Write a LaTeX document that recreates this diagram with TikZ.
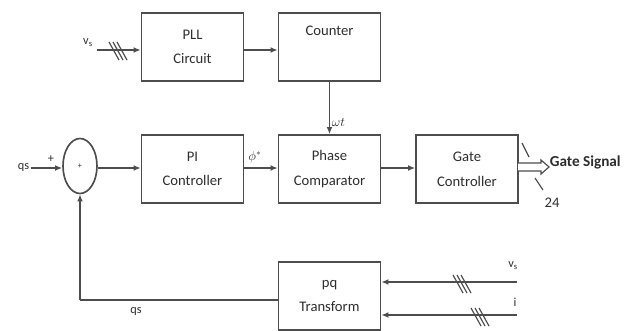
\documentclass[tikz,border=0pt]{standalone}
\usepackage{fontspec}
\setmainfont{Carlito}
\usetikzlibrary{arrows.meta,shapes.geometric}
\definecolor{ln}{HTML}{4d4d4d}
\definecolor{tx}{HTML}{2e2e2e}
\begin{document}
\begin{tikzpicture}[x=0.03cm,y=-0.03cm,
  line width=1.4pt, draw=ln, text=tx,
  font=\fontsize{12.5}{21}\selectfont,
  block/.style={draw=ln, line width=1.4pt, minimum width=3.06cm, minimum height=2.04cm, inner sep=0pt, align=center},
  arr/.style={draw=ln, -{Latex[length=6pt,width=5pt]}},
  lbl/.style={inner sep=0pt, font=\fontsize{10.5}{11}\selectfont},
  slash3/.pic={\foreach \d in {-4,0,4} \draw[ln, line width=1pt] (\d-5,-9)--(\d+5,9);}
]
\useasboundingbox (0,0) rectangle (628,330);

\node[block] (pll) at (192.5,47) {PLL\\Circuit};
\node[block] (cnt) at (329.5,47) {Counter\\\strut};
\node[block] (pi)  at (192.5,169) {PI\\Controller};
\node[block] (pc)  at (329.5,169) {Phase\\Comparator};
\node[block] (gc)  at (467,169) {Gate\\Controller};
\node[block] (pq)  at (329.5,296) {pq\\Transform};
\node[ellipse, draw=ln, line width=1.4pt, minimum width=1.02cm, minimum height=1.65cm, inner sep=0pt] (sum) at (80,166) {};
\node[lbl, font=\fontsize{7}{7}\selectfont] at (sum.center) {+};

% top input
\coordinate (vsin) at (97,50);
\node[lbl] (vslab) at (88,43) {v\textsubscript{s}};
\draw[arr] (vsin) -- (pll.west |- vsin);
\pic at (118,51) {slash3};
\draw[arr] (pll.east |- vsin) -- (cnt.west |- vsin);

% counter to phase
\draw[arr] (cnt.south) -- (pc.north);
\node[lbl, anchor=west] (wt) at (331,123) {$\omega t$};

% main row
\coordinate (qsin) at (31,168);
\node[lbl, anchor=east] (qslab) at (30,167) {qs};
\node[lbl] (plus1) at (51,159) {+};
\draw[arr] (qsin) -- (sum.west |- qsin);
\draw[arr] (sum.east |- qsin) -- (pi.west |- qsin);
\draw[arr] (pi.east |- qsin) -- (pc.west |- qsin);
\node[lbl] (phi) at (255,157) {$\phi^{*}$};
\draw[arr] (pc.east |- qsin) -- (gc.west |- qsin);

% gate signal output
\draw[fill=white, line width=1pt] (518,163) -- (541,163) -- (541,160) -- (549,167) -- (541,174) -- (541,171) -- (518,171);
\draw[line width=1pt] (522,143) -- (529,157);
\draw[line width=1pt] (535,178) -- (543,190);
\node[anchor=west, inner sep=0pt, font=\fontsize{13}{15}\selectfont\bfseries] (gs) at (549,162) {Gate Signal};
\node[lbl, font=\fontsize{12.5}{13}\selectfont] (n24) at (552,203) {24};

% feedback
\coordinate (fb) at (80,300);
\draw (pq.west |- fb) -- (fb);
\draw[arr] (fb) -- (sum.south);
\node[lbl] (qsfb) at (136,311) {qs};

% pq inputs
\coordinate (vsr) at (517,282);
\coordinate (ir) at (517,315);
\draw[arr] (vsr) -- (pq.east |- vsr);
\draw[arr] (ir) -- (pq.east |- ir);
\pic at (462,284) {slash3};
\pic at (480,317) {slash3};
\node[lbl] (vslab2) at (513,266) {v\textsubscript{s}};
\node[lbl] (ilab) at (515,302) {i};
\end{tikzpicture}
\end{document}
